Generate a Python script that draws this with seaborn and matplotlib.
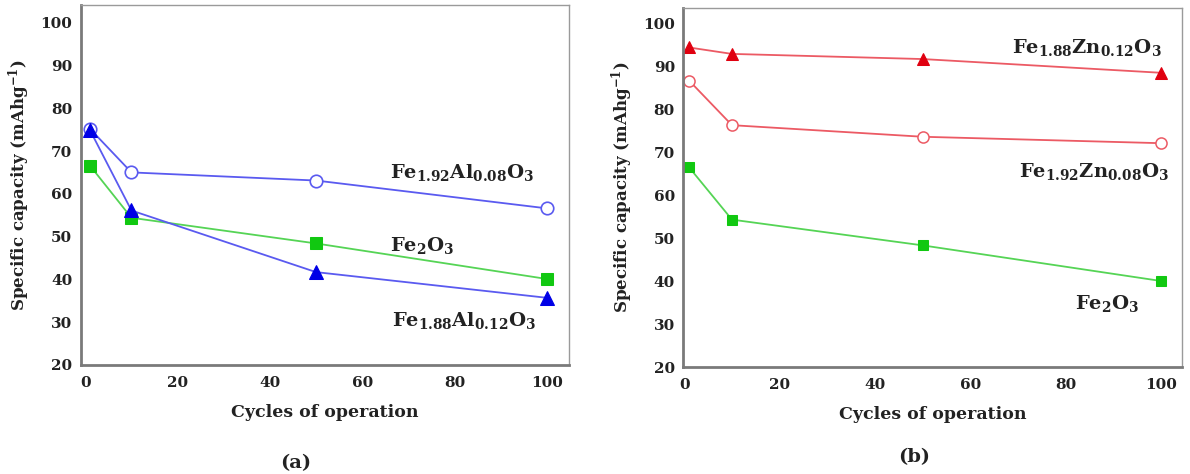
import matplotlib
matplotlib.use("Agg")
import matplotlib.pyplot as plt
import seaborn as sns

# ---- data ----
cycles = [1, 10, 50, 100]
fe2o3 = [66.6, 54.4, 48.4, 40.1]
fe192al008 = [75.2, 65.0, 63.1, 56.6]
fe188al012 = [74.9, 56.1, 41.7, 35.7]
fe188zn012 = [94.5, 93.0, 91.8, 88.6]
fe192zn008 = [86.8, 76.4, 73.7, 72.2]

x_ticks = [0, 20, 40, 60, 80, 100]
y_ticks = [20, 30, 40, 50, 60, 70, 80, 90, 100]
xlabel = "Cycles of operation"
ylabel = r"Specific capacity (mAhg$^{-1}$)"

sns.set_style("white")
plt.rcParams['font.family'] = ['DejaVu Serif']
plt.rcParams['mathtext.default'] = 'regular'

fig = plt.figure(figsize=(11.9, 4.74), dpi=100)
axa = fig.add_axes([0.0678, 0.230, 0.4103, 0.7584])
axb = fig.add_axes([0.5742, 0.2251, 0.4188, 0.759])

blue_line = "#5a5af0"
blue = "#0000e6"
green_line = "#55d455"
green = "#11c811"
red_line = "#ec5a64"
red = "#e00010"

def style(ax, xlim, ylim):
    ax.set_xlim(*xlim)
    ax.set_ylim(*ylim)
    ax.set_xticks(x_ticks)
    ax.set_yticks(y_ticks)
    for s in ['left', 'bottom']:
        ax.spines[s].set_color('#7a7a7a')
        ax.spines[s].set_linewidth(2.0)
    for s in ['top', 'right']:
        ax.spines[s].set_color('#9a9a9a')
        ax.spines[s].set_linewidth(1.0)
    ax.tick_params(axis='both', direction='inout', length=6, width=1.0,
                   color='#7a7a7a', labelsize=11, pad=3)
    ax.tick_params(axis='x', pad=5)
    for lab in ax.get_xticklabels() + ax.get_yticklabels():
        lab.set_fontweight('bold')
        lab.set_color('#222222')
    ax.set_xlabel(xlabel, fontsize=12.5, fontweight='bold', color='#222222', labelpad=10)
    ax.set_ylabel(ylabel, fontsize=12, fontweight='bold', color='#222222', labelpad=6)

# ---- panel (a) ----
sns.lineplot(x=cycles, y=fe192al008, ax=axa, color=blue_line, lw=1.3,
             marker='o', markersize=9, markerfacecolor='white',
             markeredgecolor=blue_line, markeredgewidth=1.2)
sns.lineplot(x=cycles, y=fe2o3, ax=axa, color=green_line, lw=1.3,
             marker='s', markersize=8, markerfacecolor=green,
             markeredgecolor=green)
sns.lineplot(x=cycles, y=fe188al012, ax=axa, color=blue_line, lw=1.3,
             marker='^', markersize=10, markerfacecolor=blue,
             markeredgecolor=blue)
style(axa, (-1, 104.8), (20, 104.0))

tk = dict(fontsize=14, fontweight='bold', color='#222222', va='center', ha='left')
axa.text(66.0, 64.9, r"Fe$_{1.92}$Al$_{0.08}$O$_{3}$", **tk)
axa.text(66.0, 48.0, r"Fe$_{2}$O$_{3}$", **tk)
axa.text(66.5, 30.5, r"Fe$_{1.88}$Al$_{0.12}$O$_{3}$", **tk)

# ---- panel (b) ----
sns.lineplot(x=cycles, y=fe188zn012, ax=axb, color=red_line, lw=1.3,
             marker='^', markersize=8, markerfacecolor=red,
             markeredgecolor=red)
sns.lineplot(x=cycles, y=fe192zn008, ax=axb, color=red_line, lw=1.3,
             marker='o', markersize=8, markerfacecolor='white',
             markeredgecolor=red_line, markeredgewidth=1.1)
sns.lineplot(x=cycles, y=fe2o3, ax=axb, color=green_line, lw=1.3,
             marker='s', markersize=7, markerfacecolor=green,
             markeredgecolor=green)
style(axb, (-0.2, 104.3), (20, 103.8))

axb.text(68.8, 94.4, r"Fe$_{1.88}$Zn$_{0.12}$O$_{3}$", **tk)
axb.text(70.2, 65.6, r"Fe$_{1.92}$Zn$_{0.08}$O$_{3}$", **tk)
axb.text(81.9, 34.9, r"Fe$_{2}$O$_{3}$", **tk)

fig.text(296/1190, 1 - 463/474, "(a)", fontsize=14, fontweight='bold',
         color='#222222', ha='center', va='center')
fig.text(914/1190, 1 - 457/474, "(b)", fontsize=14, fontweight='bold',
         color='#222222', ha='center', va='center')

fig.savefig("out.png", dpi=100)
